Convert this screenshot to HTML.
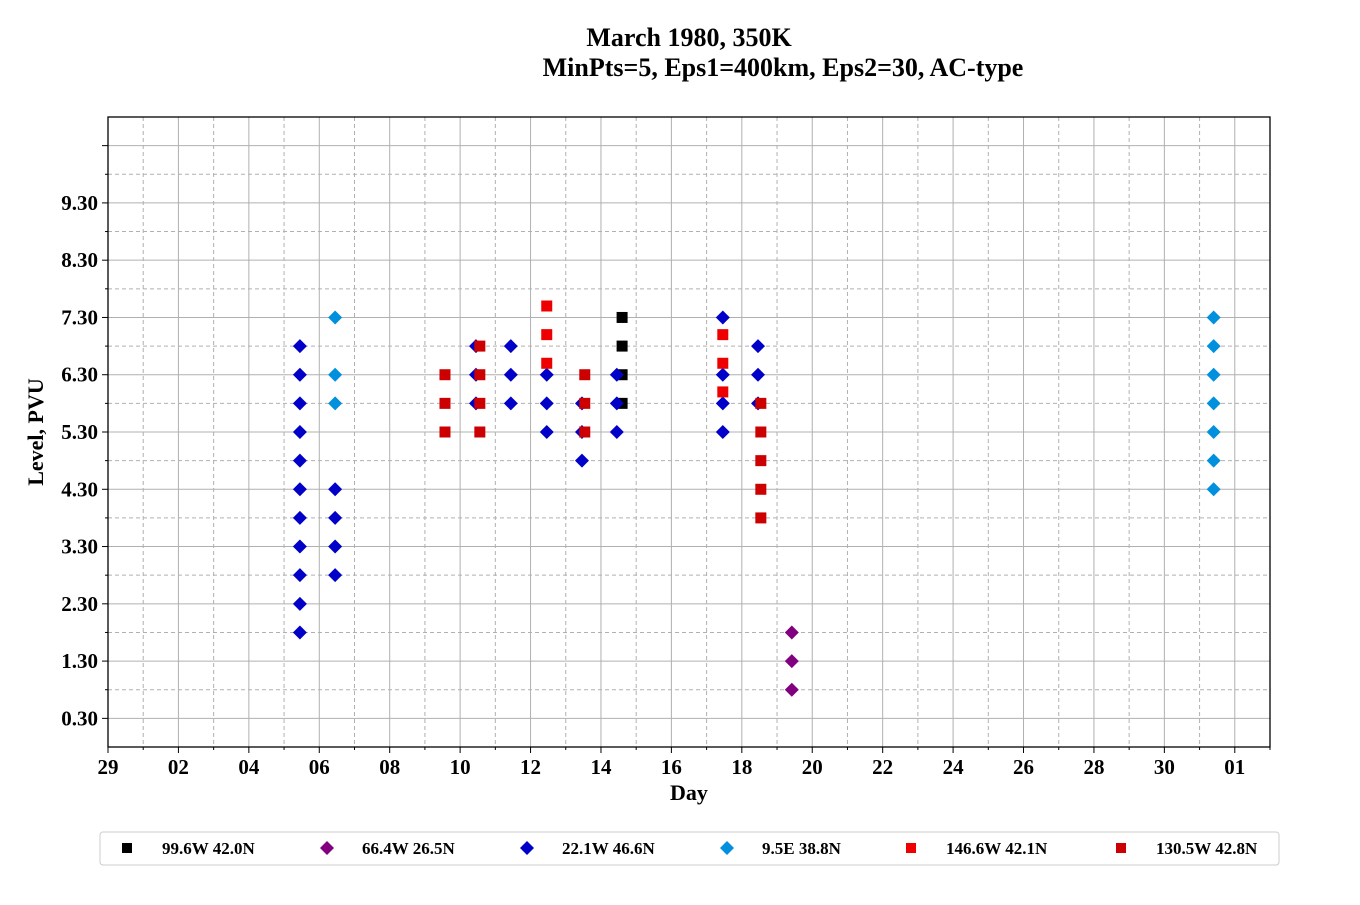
<!DOCTYPE html>
<html><head><meta charset="utf-8"><style>
body{margin:0;background:#fff}
svg text{font-family:"Liberation Serif",serif;font-weight:bold;fill:#000}
</style></head><body>
<svg id="chart" width="1360" height="900" xmlns="http://www.w3.org/2000/svg">
<text x="689" y="46" font-size="26" text-anchor="middle">March 1980, 350K</text>
<text x="783" y="76" font-size="26" text-anchor="middle">MinPts=5, Eps1=400km, Eps2=30, AC-type</text>
<g id="grid"></g>
<g id="marks"></g>
<rect x="108" y="117" width="1162" height="630" fill="none" stroke="#000" stroke-width="1.3"/>
<g id="axes"></g>
<text x="689" y="800" font-size="22" text-anchor="middle">Day</text>
<text transform="translate(43,432) rotate(-90)" font-size="22" text-anchor="middle">Level, PVU</text>
<rect x="100" y="832" width="1179" height="33" rx="3" fill="#fff" stroke="#ccc"/>
<g id="legend"></g>
</svg>
<script>
const xTickLabels=["29","02","04","06","08","10","12","14","16","18","20","22","24","26","28","30","01"];
const yTickLabels=["0.30","1.30","2.30","3.30","4.30","5.30","6.30","7.30","8.30","9.30"];
const seriesNames=["99.6W 42.0N","66.4W 26.5N","22.1W 46.6N","9.5E 38.8N","146.6W 42.1N","130.5W 42.8N"];
const seriesColors=["#000000","#800080","#0000c8","#0090dd","#ee0000","#cc0000"];
const seriesShapes=["s","d","d","d","s","s"];
const blackX=[14.6,14.6,14.6,14.6];
const blackY=[5.8,6.3,6.8,7.3];
const purpleX=[19.42,19.42,19.42];
const purpleY=[0.8,1.3,1.8];
const blueX=[5.45,5.45,5.45,5.45,5.45,5.45,5.45,5.45,5.45,5.45,5.45,6.45,6.45,6.45,6.45,10.45,10.45,10.45,11.44,11.44,11.44,12.46,12.46,12.46,13.46,13.46,13.46,14.45,14.45,14.45,17.46,17.46,17.46,17.46,18.46,18.46,18.46];
const blueY=[1.8,2.3,2.8,3.3,3.8,4.3,4.8,5.3,5.8,6.3,6.8,2.8,3.3,3.8,4.3,5.8,6.3,6.8,5.8,6.3,6.8,5.3,5.8,6.3,4.8,5.3,5.8,5.3,5.8,6.3,5.3,5.8,6.3,7.3,5.8,6.3,6.8];
const lightX=[6.45,6.45,6.45,31.4,31.4,31.4,31.4,31.4,31.4,31.4];
const lightY=[5.8,6.3,7.3,4.3,4.8,5.3,5.8,6.3,6.8,7.3];
const red1X=[12.46,12.46,12.46,17.46,17.46,17.46];
const red1Y=[6.5,7.0,7.5,6.0,6.5,7.0];
const red2X=[9.57,9.57,9.57,10.56,10.56,10.56,10.56,13.54,13.54,13.54,18.54,18.54,18.54,18.54,18.54];
const red2Y=[5.3,5.8,6.3,5.3,5.8,6.3,6.8,5.3,5.8,6.3,3.8,4.3,4.8,5.3,5.8];
const seriesX=[blackX,purpleX,blueX,lightX,red1X,red2X];
const seriesY=[blackY,purpleY,blueY,lightY,red1Y,red2Y];

const X0=108,X1=1270,Y0=747,Y1=117,XMIN=0,XMAX=33,YMIN=-0.2,YMAX=10.8;
const sx=v=>X0+(v-XMIN)/(XMAX-XMIN)*(X1-X0);
const sy=v=>Y0-(v-YMIN)/(YMAX-YMIN)*(Y0-Y1);
const NS="http://www.w3.org/2000/svg";
function mk(tag,attrs,parent){const e=document.createElementNS(NS,tag);for(const k in attrs)e.setAttribute(k,attrs[k]);parent.appendChild(e);return e;}
const grid=document.getElementById('grid'),axes=document.getElementById('axes'),marks=document.getElementById('marks'),legend=document.getElementById('legend');
for(let d=1;d<XMAX;d++){
  const x=sx(d),major=d%2===0;
  const l=mk('line',{x1:x,x2:x,y1:Y1,y2:Y0,stroke:'#b0b0b0','stroke-width':1,'stroke-dasharray':major?'':'4,3'},grid);
  
  
}
for(let d=0;d<=XMAX;d++){
  const x=sx(d),major=d%2===0;
  const t=mk('line',{x1:x,x2:x,y1:Y0,y2:Y0+(major?6:3),stroke:'#000'},axes);
  
  
}
xTickLabels.forEach((s,i)=>{
  const t=mk('text',{x:sx(i*2),y:Y0+27,'font-size':21,'text-anchor':'middle'},axes);t.textContent=s;
  
  
});
for(let k=0;k<=21;k++){
  const v=-0.2+k*0.5;if(v<=YMIN+0.01||v>=YMAX-0.01)continue;
  const y=sy(v),major=k%2===1;
  const l=mk('line',{x1:X0,x2:X1,y1:y,y2:y,stroke:'#b0b0b0','stroke-width':1,'stroke-dasharray':major?'':'4,3'},grid);
  
  
  const t=mk('line',{x1:X0-(major?6:3),x2:X0,y1:y,y2:y,stroke:'#000'},axes);
  
  
}
yTickLabels.forEach(s=>{
  const t=mk('text',{x:X0-10,y:sy(parseFloat(s))+7,'font-size':21,'text-anchor':'end'},axes);t.textContent=s;
  
  
});
function marker(shape,cx,cy,color,parent){
  if(shape==='s') return mk('rect',{x:cx-5.5,y:cy-5.5,width:11,height:11,fill:color},parent);
  return mk('polygon',{points:`${cx},${cy-7} ${cx+7},${cy} ${cx},${cy+7} ${cx-7},${cy}`,fill:color},parent);
}
seriesX.forEach((xs,si)=>{
  xs.forEach((xv,i)=>{
    const m=marker(seriesShapes[si],sx(xv),sy(seriesY[si][i]),seriesColors[si],marks);
    
    
  });
});
const legX=[127,327,527,727,911,1121];
seriesNames.forEach((n,i)=>{
  const sh=seriesShapes[i]==='s';
  const m=marker(seriesShapes[i],legX[i],848,seriesColors[i],legend);
  if(sh){m.setAttribute('width',10);m.setAttribute('height',10);m.setAttribute('x',legX[i]-5);m.setAttribute('y',843);}
  
  
  const t=mk('text',{x:legX[i]+35,y:854,'font-size':17},legend);t.textContent=n;
  
  
});
</script>
</body></html>
